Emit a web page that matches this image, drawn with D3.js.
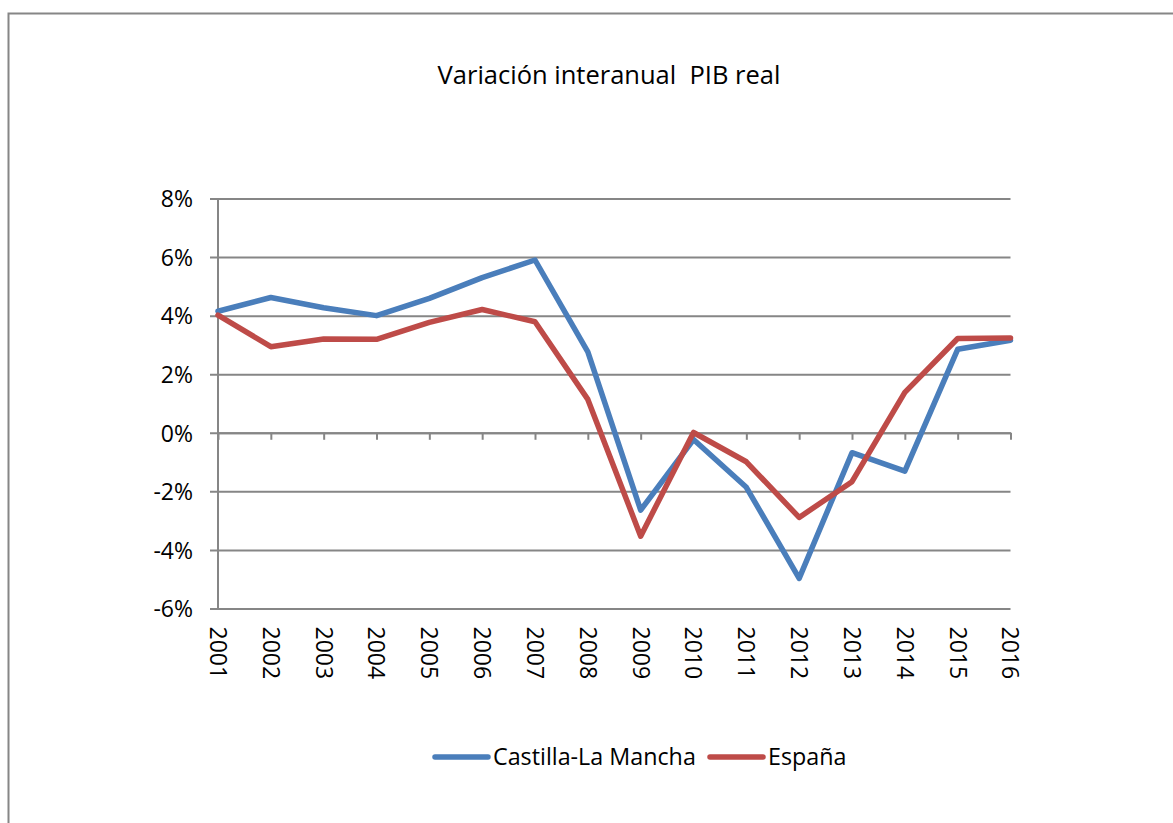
<!DOCTYPE html>
<html>
<head>
<meta charset="utf-8">
<script src="https://cdn.jsdelivr.net/npm/d3@7"></script>
<style>
  body { margin: 0; background: #fff; }
  svg { display: block; font-family: 'Open Sans', sans-serif; }
</style>
</head>
<body>
<div id="chart"></div>
<script>
// Data
const years = ['2001', '2002', '2003', '2004', '2005', '2006', '2007', '2008',
    '2009', '2010', '2011', '2012', '2013', '2014', '2015', '2016']
const castillaLaMancha = [4.15, 4.62, 4.27, 4.0, 4.59, 5.3, 5.9, 2.76,
    -2.64, -0.23, -1.86, -4.97, -0.68, -1.31, 2.85, 3.16]
const espana = [4.02, 2.94, 3.2, 3.19, 3.77, 4.21, 3.79, 1.14,
    -3.53, 0.01, -0.99, -2.89, -1.67, 1.38, 3.22, 3.24]
const yTicks = [-6, -4, -2, 0, 2, 4, 6, 8]
const seriesNames = ['Castilla-La Mancha', 'España']

const series = [
    { name: seriesNames[0], values: castillaLaMancha, color: '#4a7ebb' },
    { name: seriesNames[1], values: espana, color: '#be4b48' },
]

// Layout
const width = 1173
const height = 823
const plot = { left: 218, right: 1010.5, top: 198.5, bottom: 608.5 }
const gridColor = '#868686'
const fontFamily = "'Open Sans', sans-serif"

const svg = d3
    .select('#chart')
    .append('svg')
    .attr('width', width)
    .attr('height', height)

// Outer chart frame
svg.append('rect')
    .attr('x', 8.5)
    .attr('y', 13.5)
    .attr('width', 1180)
    .attr('height', 830)
    .attr('fill', 'none')
    .attr('stroke', gridColor)
    .attr('stroke-width', 2)

// Title
svg.append('text')
    .attr('x', 609)
    .attr('y', 84)
    .attr('text-anchor', 'middle')
    .attr('font-size', 25.5)
    .attr('xml:space', 'preserve')
    .style('white-space', 'pre')
    .text('Variación interanual  PIB real')

// Scales
const x = d3.scalePoint().domain(years).range([plot.left, plot.right])
const y = d3.scaleLinear().domain([-6, 8]).range([plot.bottom, plot.top])

// Horizontal gridlines + y axis
const yAxis = d3
    .axisLeft(y)
    .tickValues(yTicks)
    .tickSize(-(plot.right - plot.left))
    .tickPadding(25)
    .tickFormat((d) => d + '%')

svg.append('g')
    .attr('transform', `translate(${plot.left}, 0)`)
    .call(yAxis)
    .attr('font-family', fontFamily)
    .call((g) => g.select('.domain').remove())
    .call((g) =>
        g.selectAll('.tick line')
            .attr('x1', -8)
            .attr('stroke', gridColor)
            .attr('stroke-width', 2)
    )
    .call((g) =>
        g.selectAll('.tick text')
            .attr('font-size', 23)
            .attr('fill', '#000')
            .attr('dy', '0.36em')
    )

// Vertical axis line
svg.append('line')
    .attr('x1', plot.left)
    .attr('x2', plot.left)
    .attr('y1', plot.top)
    .attr('y2', plot.bottom)
    .attr('stroke', gridColor)
    .attr('stroke-width', 2)

// Category axis at 0%
const xAxis = d3.axisBottom(x).tickSize(7).tickSizeOuter(0).tickFormat('')
svg.append('g')
    .attr('transform', `translate(0, ${y(0)})`)
    .call(xAxis)
    .call((g) => g.select('.domain').attr('stroke', gridColor).attr('stroke-width', 2))
    .call((g) =>
        g.selectAll('.tick line')
            .attr('stroke', gridColor)
            .attr('stroke-width', 2)
    )

// Year labels below the plot, rotated
svg.append('g')
    .selectAll('text')
    .data(years)
    .join('text')
    .attr('transform', (d) => `translate(${x(d)}, ${plot.bottom + 18}) rotate(90)`)
    .attr('dy', '0.35em')
    .attr('font-size', 23)
    .attr('fill', '#000')
    .text((d) => d)

// Lines
const line = d3
    .line()
    .x((d, i) => x(years[i]))
    .y((d) => y(d))

svg.append('g')
    .selectAll('path')
    .data(series)
    .join('path')
    .attr('d', (d) => line(d.values))
    .attr('fill', 'none')
    .attr('stroke', (d) => d.color)
    .attr('stroke-width', 5.5)
    .attr('stroke-linejoin', 'round')
    .attr('stroke-linecap', 'round')

// Legend
const legendItems = [
    { x: 435, s: series[0] },
    { x: 710, s: series[1] },
]
const legend = svg.append('g').attr('transform', 'translate(0, 757)')
legendItems.forEach(({ x: lx, s }) => {
    legend.append('line')
        .attr('x1', lx)
        .attr('x2', lx + 53)
        .attr('stroke', s.color)
        .attr('stroke-width', 5.5)
        .attr('stroke-linecap', 'round')
    legend.append('text')
        .attr('x', lx + 58)
        .attr('dy', '0.36em')
        .attr('font-size', 23.3)
        .text(s.name)
})
</script>
</body>
</html>
